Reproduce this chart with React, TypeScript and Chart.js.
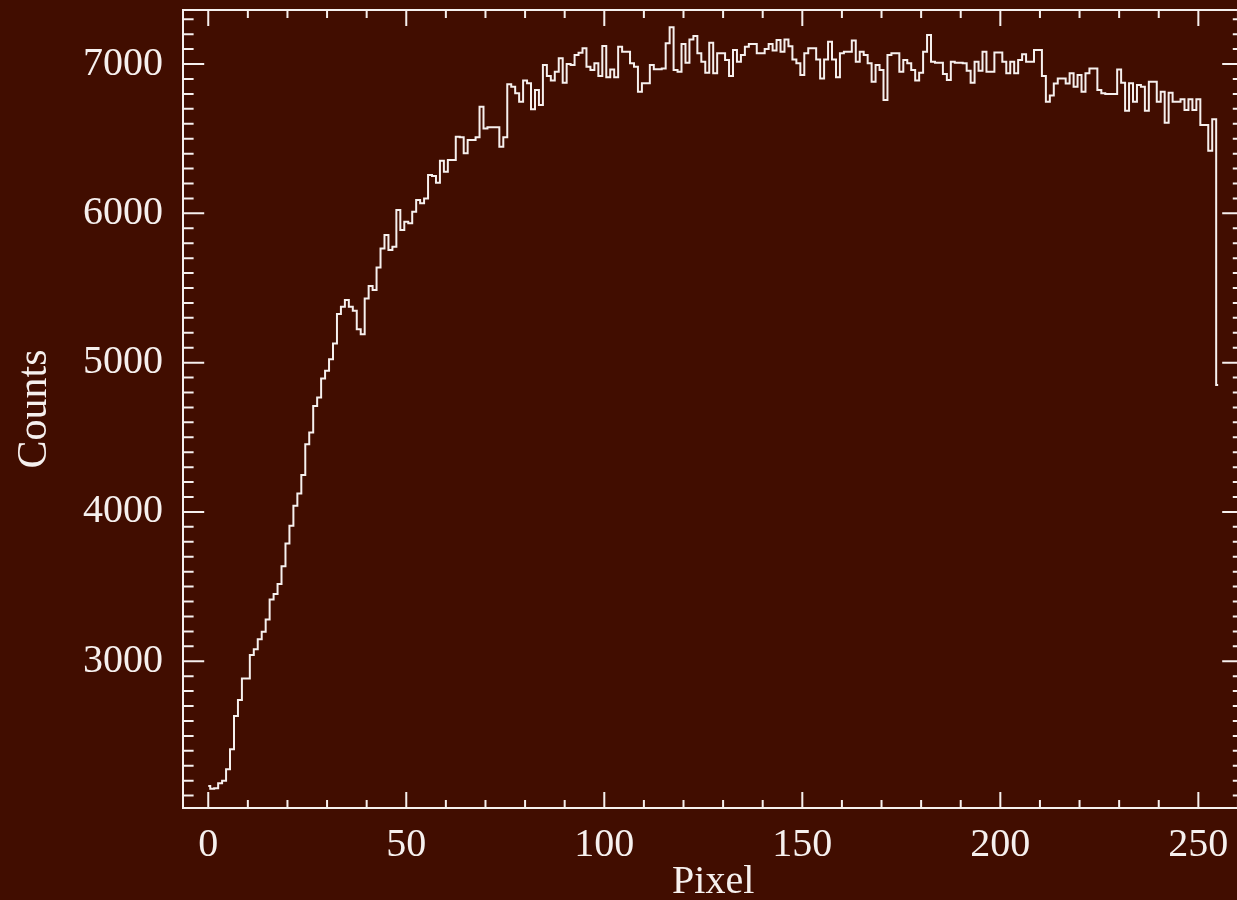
import React, { useEffect, useRef } from 'react';
import { Chart, registerables } from 'chart.js';

Chart.register(...registerables);

// Counts per pixel (pixels 0..255)
const countsPart1 = [
  2164, 2146, 2150, 2182, 2200, 2276, 2410, 2633, 2740, 2885, 2885, 3042, 3080, 3147, 3198, 3280,
  3414, 3450, 3517, 3637, 3789, 3907, 4041, 4124, 4247, 4454, 4532, 4709, 4767, 4894, 4946, 5022,
  5129, 5325, 5374, 5419, 5374, 5348, 5223, 5191, 5430, 5513, 5486, 5638, 5765, 5855, 5754, 5776,
  6022, 5888, 5944, 5933, 6011, 6089, 6067, 6100, 6257, 6250, 6205, 6353, 6279, 6357, 6357, 6513,
];
const countsPart2 = [
  6509, 6402, 6491, 6491, 6509, 6714, 6569, 6576, 6576, 6576, 6446, 6509, 6864, 6848, 6804, 6748,
  6889, 6871, 6697, 6826, 6726, 6994, 6920, 6889, 6949, 7038, 6875, 7000, 6994, 7060, 7076, 7105,
  6982, 6960, 7005, 6920, 7121, 6911, 6964, 6911, 7116, 7083, 7083, 7005, 6982, 6815, 6871, 6871,
  6994, 6965, 6965, 6971, 7139, 7246, 6960, 6949, 7134, 7009, 7165, 7188, 7072, 7016, 6942, 7143,
];
const countsPart3 = [
  6938, 7072, 7072, 7027, 6920, 7094, 7016, 7060, 7116, 7134, 7134, 7072, 7072, 7100, 7134, 7090,
  7161, 7083, 7165, 7120, 7031, 7005, 6927, 7072, 7105, 7105, 7031, 6904, 7031, 7150, 7031, 6911,
  7072, 7083, 7083, 7157, 7016, 7083, 7060, 7005, 6882, 6994, 6960, 6759, 7060, 7072, 7072, 6949,
  7027, 7005, 6960, 6889, 6942, 7083, 7195, 7016, 7009, 7009, 6933, 6893, 7016, 7009, 7009, 7005,
];
const countsPart4 = [
  6955, 6875, 7016, 6955, 7083, 6949, 6949, 7078, 7078, 7016, 6938, 7016, 6938, 7027, 7065, 7016,
  7016, 7094, 7094, 6920, 6748, 6790, 6870, 6904, 6904, 6870, 6938, 6848, 6927, 6815, 6938, 6971,
  6971, 6826, 6804, 6799, 6799, 6800, 6964, 6875, 6688, 6871, 6748, 6860, 6848, 6688, 6882, 6882,
  6748, 6815, 6607, 6808, 6748, 6748, 6764, 6692, 6764, 6692, 6764, 6592, 6592, 6420, 6630, 4850,
];

const counts = [...countsPart1, ...countsPart2, ...countsPart3, ...countsPart4];
const pixels = counts.map((_, i) => i);

const xTickValues = [0, 50, 100, 150, 200, 250];
const yTickValues = [3000, 4000, 5000, 6000, 7000];
const xMinorStep = 10;
const yMinorStep = 100;
const xRange = [-6.375, 261.375];
const yRange = [2017, 7362];

const BG = '#410d00';
const FG = '#f6f0ee';
const FONT = "'Liberation Serif', 'DejaVu Serif', 'Times New Roman', serif";
const CANVAS_W = 1260;
const CANVAS_H = 900;

const idlFrame = {
  id: 'idlFrame',
  afterDraw(chart: any) {
    const { ctx, chartArea: a, scales } = chart;
    const xs = scales.x;
    const ys = scales.y;
    const w = a.right - a.left;
    const h = a.bottom - a.top;
    const xMaj = h * 0.02;
    const yMaj = w * 0.02;
    ctx.save();
    ctx.strokeStyle = FG;
    ctx.lineWidth = 2;
    ctx.strokeRect(a.left, a.top, w, h);
    ctx.beginPath();
    for (let v = 0; v <= xRange[1]; v += xMinorStep) {
      const px = xs.getPixelForValue(v);
      const len = xTickValues.includes(v) ? xMaj : xMaj / 2;
      ctx.moveTo(px, a.bottom);
      ctx.lineTo(px, a.bottom - len);
      ctx.moveTo(px, a.top);
      ctx.lineTo(px, a.top + len);
    }
    const yStart = Math.ceil(yRange[0] / yMinorStep) * yMinorStep;
    for (let v = yStart; v <= yRange[1]; v += yMinorStep) {
      const py = ys.getPixelForValue(v);
      const len = yTickValues.includes(v) ? yMaj : yMaj / 2;
      ctx.moveTo(a.left, py);
      ctx.lineTo(a.left + len, py);
      ctx.moveTo(a.right, py);
      ctx.lineTo(a.right - len, py);
    }
    ctx.stroke();
    ctx.restore();
  },
};

export default function App() {
  const ref = useRef<HTMLCanvasElement | null>(null);

  useEffect(() => {
    if (!ref.current) return;
    const tickFont = { family: FONT, size: 40 };
    const chart = new Chart(ref.current, {
      type: 'line',
      data: {
        datasets: [
          {
            data: pixels.map((p, i) => ({ x: p, y: counts[i] })),
            borderColor: FG,
            borderWidth: 2,
            pointRadius: 0,
            stepped: 'middle',
            fill: false,
          },
        ],
      },
      options: {
        animation: false,
        responsive: false,
        devicePixelRatio: 1,
        layout: { padding: { left: 0, top: 10, right: CANVAS_W - 1243.4, bottom: 0 } },
        plugins: { legend: { display: false }, tooltip: { enabled: false } },
        scales: {
          x: {
            type: 'linear',
            min: xRange[0],
            max: xRange[1],
            afterBuildTicks: (s: any) => {
              s.ticks = xTickValues.map((v) => ({ value: v }));
            },
            afterFit: (s: any) => {
              s.height = 92;
              s.paddingLeft = 0;
              s.paddingRight = 0;
            },
            grid: { display: false },
            border: { display: false },
            ticks: {
              color: FG,
              font: tickFont,
              padding: 5,
              maxRotation: 0,
              autoSkip: false,
              callback: (v: any) => String(v),
            },
            title: {
              display: true,
              text: 'Pixel',
              color: FG,
              font: { family: FONT, size: 40, lineHeight: 1 },
              padding: { top: 0, bottom: -2 },
            },
          },
          y: {
            type: 'linear',
            min: yRange[0],
            max: yRange[1],
            afterBuildTicks: (s: any) => {
              s.ticks = yTickValues.map((v) => ({ value: v }));
            },
            afterFit: (s: any) => {
              s.width = 183;
              s.paddingTop = 0;
              s.paddingBottom = 0;
            },
            grid: { display: false },
            border: { display: false },
            ticks: {
              color: FG,
              font: tickFont,
              padding: 12,
              autoSkip: false,
              callback: (v: any) => String(v),
            },
            title: {
              display: true,
              text: 'Counts',
              color: FG,
              font: { family: FONT, size: 42, lineHeight: 1 },
              padding: { top: 14, bottom: 0 },
            },
          },
        },
      },
      plugins: [idlFrame],
    });
    return () => chart.destroy();
  }, []);

  return (
    <div
      style={{
        position: 'fixed',
        left: 0,
        top: 0,
        width: 1237,
        height: 900,
        overflow: 'hidden',
        background: BG,
      }}
    >
      <canvas ref={ref} width={CANVAS_W} height={CANVAS_H} style={{ display: 'block' }} />
    </div>
  );
}
